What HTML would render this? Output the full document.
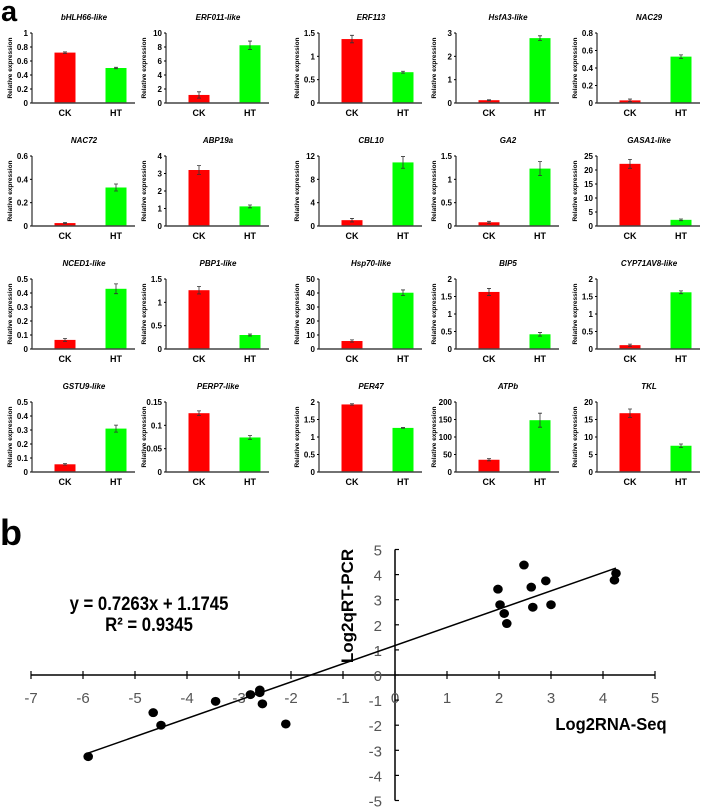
<!DOCTYPE html>
<html><head><meta charset="utf-8"><style>
body{margin:0;background:#fff;}
svg{display:block;font-family:"Liberation Sans",sans-serif;}
</style></head><body>
<svg id="fig" width="707" height="810" viewBox="0 0 707 810">
<text x="1" y="21" font-size="29" font-weight="bold">a</text>
<text x="0" y="545" font-size="36" font-weight="bold">b</text>
<g id="bars"></g>
<g id="scatter"></g>
</svg>
<script>
const NS="http://www.w3.org/2000/svg";
const geneNames=["bHLH66-like","ERF011-like","ERF113","HsfA3-like","NAC29","NAC72","ABP19a","CBL10","GA2","GASA1-like","NCED1-like","PBP1-like","Hsp70-like","BIP5","CYP71AV8-like","GSTU9-like","PERP7-like","PER47","ATPb","TKL"];
const ckValues=[0.72,1.15,1.37,0.12,0.03,0.025,3.2,1.0,0.08,22.2,0.065,1.26,5.7,1.63,0.11,0.055,0.126,1.93,35,16.8];
const ckErrors=[0.01,0.45,0.08,0.02,0.015,0.005,0.25,0.3,0.02,1.6,0.01,0.08,0.8,0.1,0.03,0.005,0.005,0.02,3,1.2];
const htValues=[0.5,8.25,0.66,2.78,0.53,0.33,1.12,10.9,1.23,2.2,0.43,0.3,40.2,0.42,1.62,0.31,0.074,1.26,148,7.5];
const htErrors=[0.01,0.6,0.02,0.1,0.02,0.03,0.08,1.0,0.15,0.3,0.035,0.02,2,0.05,0.04,0.025,0.004,0.01,20,0.5];
const axisMax=[1,10,1.5,3,0.8,0.6,4,12,1.5,25,0.5,1.5,50,2,2,0.5,0.15,2,200,20];
const axisStep=[0.2,2,0.5,1,0.2,0.2,1,4,0.5,5,0.1,0.5,10,0.5,0.5,0.1,0.05,0.5,50,5];
const categories=["CK","HT"];

const scX=[-5.9,-4.65,-4.5,-3.45,-2.78,-2.6,-2.6,-2.55,-2.1,1.98,2.02,2.1,2.15,2.48,2.62,2.65,2.9,3.0,4.22,4.25];
const scY=[-3.25,-1.5,-2.0,-1.05,-0.78,-0.6,-0.7,-1.15,-1.95,3.42,2.8,2.45,2.05,4.38,3.5,2.7,3.75,2.8,3.78,4.05];
const slope=0.7263, intercept=1.1745;
const xTicks=[-7,-6,-5,-4,-3,-2,-1,0,1,2,3,4,5];
const yTicks=[-5,-4,-3,-2,-1,0,1,2,3,4,5];

function mk(tag,attrs,parent,txt){const e=document.createElementNS(NS,tag);for(const k in attrs)e.setAttribute(k,attrs[k]);if(txt!==undefined)e.textContent=txt;parent.appendChild(e);return e;}
function fmt(v){return String(+v.toFixed(3));}

const bars=document.getElementById('bars');
const colAxis=[32,166,319,456,597];
const rowTop=[33,156,279,402];
geneNames.forEach((name,i)=>{
  const r=Math.floor(i/5), c=i%5;
  const ax=colAxis[c], top=rowTop[r], base=top+70, right=ax+103;
  const g=mk('g',{},bars);
  
  
  const yS=v=>base-(v/axisMax[i])*(base-top);
  const t=mk('text',{x:ax+52,y:top-13,'font-size':8,'font-weight':'bold','font-style':'italic','text-anchor':'middle'},g,name);
  
  
  const yt=mk('text',{x:0,y:0,'font-size':6.5,'font-weight':'bold','text-anchor':'middle',transform:`translate(${ax-20},${(top+base)/2}) rotate(-90)`},g,'Relative expression');
  
  
  const n=Math.round(axisMax[i]/axisStep[i]);
  for(let k=0;k<=n;k++){
    const v=k*axisStep[i], y=yS(v);
    mk('line',{x1:ax-2,x2:ax,y1:y,y2:y,stroke:'#000','stroke-width':1},g);
    const tl=mk('text',{x:ax-4,y:y+3,'font-size':8,'font-weight':'bold','text-anchor':'end'},g,fmt(v));
    
    
  }
  mk('line',{x1:ax,x2:ax,y1:top,y2:base,stroke:'#000','stroke-width':1},g);
  [ckValues[i],htValues[i]].forEach((v,j)=>{
    const err=j?htErrors[i]:ckErrors[i];
    const cx=ax+(j?84:33);
    const b=mk('rect',{x:cx-10.5,y:yS(v),width:21,height:base-yS(v),fill:j?'#00ff00':'#ff0000'},g);
    
    
    const y1=yS(v+err), y2=yS(Math.max(0,v-err));
    mk('path',{d:`M${cx},${y1}V${y2}M${cx-2},${y1}H${cx+2}M${cx-2},${y2}H${cx+2}`,stroke:'#333','stroke-width':0.8,fill:'none'},g);
    const cl=mk('text',{x:cx,y:base+13,'font-size':9,'font-weight':'bold','text-anchor':'middle'},g,categories[j]);
    
    
  });
  mk('line',{x1:ax,x2:right,y1:base,y2:base,stroke:'#444','stroke-width':1.5},g);
});

// scatter
const sc=document.getElementById('scatter');
const X0=395, UX=52, Y0=675, UY=25.1;
const sx=v=>X0+v*UX, sy=v=>Y0-v*UY;
const xa=mk('line',{x1:sx(-7),x2:sx(5),y1:Y0,y2:Y0,stroke:'#000','stroke-width':1.5},sc);


const ya=mk('line',{x1:X0,x2:X0,y1:sy(5),y2:sy(-5),stroke:'#000','stroke-width':1.5},sc);


xTicks.forEach(v=>{
  mk('line',{x1:sx(v),x2:sx(v),y1:Y0-4,y2:Y0+4,stroke:'#000','stroke-width':1.2},sc);
  const t=mk('text',{x:sx(v),y:Y0+28,'font-size':15,fill:'#555','text-anchor':'middle'},sc,String(v).replace('-','-'));
  
  
});
yTicks.forEach(v=>{
  mk('line',{x1:X0,x2:X0+4,y1:sy(v),y2:sy(v),stroke:'#000','stroke-width':1.2},sc);
  const t=mk('text',{x:X0-13,y:sy(v)+6,'font-size':15,fill:'#555','text-anchor':'end'},sc,String(v));
  
  
});
const xmin=Math.min(...scX), xmax=Math.max(...scX);
const tr=mk('line',{x1:sx(xmin),y1:sy(slope*xmin+intercept),x2:sx(xmax),y2:sy(slope*xmax+intercept),stroke:'#000','stroke-width':1.5},sc);


scX.forEach((x,k)=>{
  const p=mk('ellipse',{cx:sx(x),cy:sy(scY[k]),rx:4.8,ry:4.5,fill:'#000'},sc);
  
  
});
const eq=mk('text',{x:149,y:610,'font-size':19,'font-weight':'bold','text-anchor':'middle',transform:'translate(149,0) scale(0.88,1) translate(-149,0)'},sc,'y = 0.7263x + 1.1745');


const r2=mk('text',{x:149,y:631,'font-size':19,'font-weight':'bold','text-anchor':'middle',transform:'translate(149,0) scale(0.88,1) translate(-149,0)'},sc,'R² = 0.9345');


const yT=mk('text',{x:0,y:0,'font-size':17,'font-weight':'bold','text-anchor':'middle',transform:'translate(353,606) rotate(-90)'},sc,'Log2qRT-PCR');


const xT=mk('text',{x:611,y:730,'font-size':18,'font-weight':'bold','text-anchor':'middle',transform:'translate(611,0) scale(0.92,1) translate(-611,0)'},sc,'Log2RNA-Seq');


</script>
</body></html>
